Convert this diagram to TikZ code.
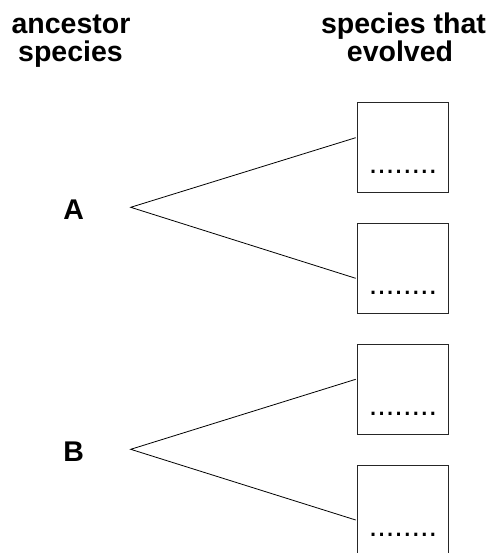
\documentclass[tikz,border=0pt]{standalone}
\usepackage{fontspec}
\setmainfont{Liberation Sans}
\begin{document}
\begin{tikzpicture}[x=1pt,y=-1pt,
  head/.style={font=\fontsize{28.5}{28.5}\selectfont\bfseries, inner sep=0pt, anchor=base},
  anc/.style={font=\fontsize{28.5}{28.5}\selectfont\bfseries, inner sep=0pt, anchor=base},
  sbox/.style={draw=black!85, line width=0.9pt, minimum width=91pt, minimum height=90pt, inner sep=0pt},
  dots/.style={font=\fontsize{30.8}{30.8}\selectfont, inner sep=0pt, anchor=base},
  branch/.style={draw=black, line width=0.8pt}
]
\useasboundingbox (0,0) rectangle (490,553);
\clip (0,0) rectangle (490,553);
\fill[white] (0,0) rectangle (490,553);

% headers
\node[head] (h1a) at (71,33.3) {ancestor};
\node[head] (h1b) at (70.5,61.7) {species};
\node[head] (h2a) at (403.5,33.3) {species that};
\node[head] (h2b) at (400,61.7) {evolved};

% ancestors
\node[anc] (A) at (73.7,219) {A};
\node[anc] (B) at (73.7,461.7) {B};
\coordinate (pA) at (130.7,207.3);
\coordinate (pB) at (130.7,449.3);

% boxes
\node[sbox] (b1) at (402.8,147.3) {};
\node[sbox] (b2) at (402.8,268.2) {};
\node[sbox] (b3) at (402.8,389.2) {};
\node[sbox] (b4) at (402.8,510.2) {};

\node[dots] (d1) at (403,173.2) {........};
\node[dots] (d2) at (403,294.2) {........};
\node[dots] (d3) at (403,415.5) {........};
\node[dots] (d4) at (403,536.5) {........};

% line end points on box edges
\coordinate (e1) at (355.7,137.7);
\coordinate (e2) at (355.7,278.3);
\coordinate (e3) at (355.7,379.3);
\coordinate (e4) at (355.7,520);

\draw[branch] (e1) -- (pA) -- (e2);
\draw[branch] (e3) -- (pB) -- (e4);
\end{tikzpicture}
\end{document}
